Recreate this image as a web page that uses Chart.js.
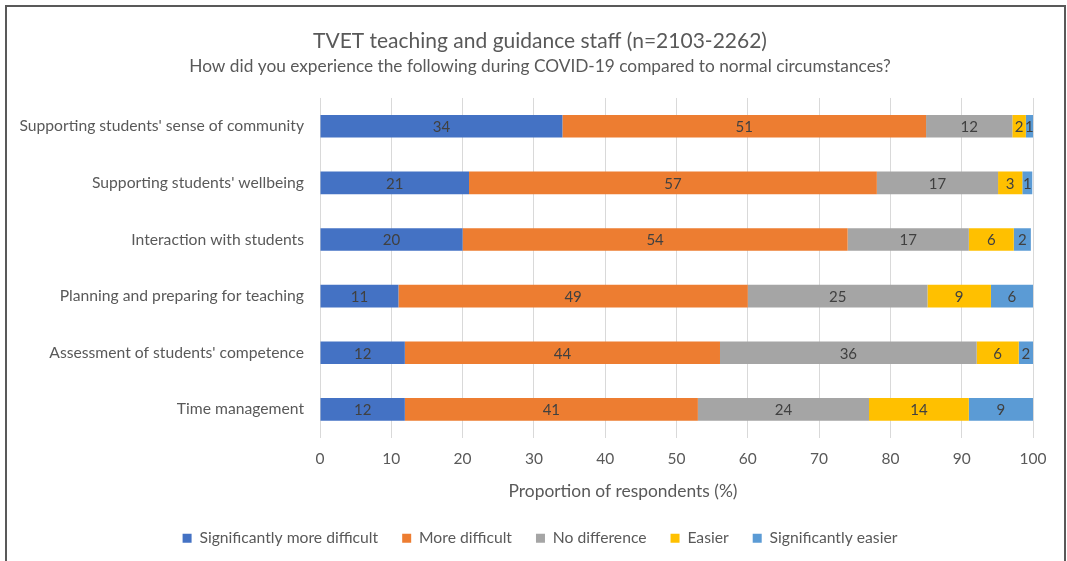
<!DOCTYPE html>
<html>
<head>
<meta charset="utf-8">
<script src="https://cdn.jsdelivr.net/npm/chart.js@4"></script>
<style>
  html, body { margin: 0; padding: 0; background: #fff; }
  #wrap { width: 1067px; height: 561px; position: relative; }
</style>
</head>
<body>
<div id="wrap"><canvas id="canvas" width="1067" height="561"></canvas></div>
<script>
var categories = [
  "Supporting students' sense of community",
  "Supporting students' wellbeing",
  "Interaction with students",
  "Planning and preparing for teaching",
  "Assessment of students' competence",
  "Time management"
];
var seriesNames = ['Significantly more difficult', 'More difficult', 'No difference', 'Easier', 'Significantly easier'];
var sigMoreDifficult = [34.0, 20.9, 20.0, 11.0, 11.9, 11.9];
var moreDifficult    = [51.0, 57.2, 54.0, 49.0, 44.2, 41.1];
var noDifference     = [12.1, 17.0, 17.0, 25.2, 36.0, 24.0];
var easier           = [1.9, 3.4, 6.3, 8.9, 5.9, 14.0];
var sigEasier        = [1.0, 1.4, 2.4, 5.9, 2.0, 9.0];
var xTicks = [0, 10, 20, 30, 40, 50, 60, 70, 80, 90, 100];
var xTitle = 'Proportion of respondents (%)';

var colors = ['#4472C4', '#ED7D31', '#A5A5A5', '#FFC000', '#5B9BD5'];
var allSeries = [sigMoreDifficult, moreDifficult, noDifference, easier, sigEasier];
var textGrey = '#595959';
var font = 'Lato, "Noto Sans", sans-serif';

// labels inside each bar segment
var barLabels = {
  id: 'barLabels',
  afterDatasetsDraw: function(chart) {
    var ctx = chart.ctx;
    ctx.save();
    ctx.fillStyle = '#404040';
    ctx.font = '15px ' + font;
    ctx.textAlign = 'center';
    ctx.textBaseline = 'middle';
    chart.data.datasets.forEach(function(ds, i) {
      var meta = chart.getDatasetMeta(i);
      meta.data.forEach(function(el, j) {
        var cx = (el.x + el.base) / 2;
        ctx.fillText(Math.round(ds.data[j]).toString(), cx, el.y + 1);
      });
    });
    ctx.restore();
  }
};

// frame round the figure, and the x axis title (it sits left of the plot centre)
var frame = {
  id: 'frame',
  beforeDraw: function(chart) {
    var ctx = chart.ctx;
    ctx.save();
    ctx.fillStyle = '#fff';
    ctx.fillRect(0, 0, chart.width, chart.height);
    ctx.strokeStyle = '#595959';
    ctx.lineWidth = 2;
    ctx.beginPath();
    ctx.moveTo(6, 570);
    ctx.lineTo(6, 6);
    ctx.lineTo(1065, 6);
    ctx.lineTo(1065, 570);
    ctx.stroke();
    ctx.restore();
  },
  afterDraw: function(chart) {
    var ctx = chart.ctx;
    var xs = chart.scales.x;
    ctx.save();
    ctx.fillStyle = textGrey;
    ctx.font = '17.4px ' + font;
    ctx.textAlign = 'center';
    ctx.textBaseline = 'middle';
    ctx.fillText(xTitle, 623, xs.bottom - 6 - 9);
    ctx.restore();
  }
};

var datasets = seriesNames.map(function(name, i) {
  return {
    label: name,
    data: allSeries[i],
    backgroundColor: colors[i],
    borderWidth: 0,
    barPercentage: 0.4,
    categoryPercentage: 1.0
  };
});

var ctx = document.getElementById('canvas').getContext('2d');
window.myBar = new Chart(ctx, {
  type: 'bar',
  data: { labels: categories, datasets: datasets },
  plugins: [frame, barLabels],
  options: {
    indexAxis: 'y',
    responsive: false,
    animation: false,
    layout: { padding: { left: 47, right: 34, top: 19, bottom: 5 } },
    scales: {
      x: {
        stacked: true,
        min: 0,
        max: 100,
        afterBuildTicks: function(scale) {
          scale.ticks = xTicks.map(function(v) { return { value: v }; });
        },
        grid: { color: '#d9d9d9', lineWidth: 1, drawTicks: false },
        border: { display: false },
        ticks: { color: textGrey, font: { family: font, size: 15.5 }, padding: 12 },
        title: {
          display: true,
          text: xTitle,
          color: 'rgba(0,0,0,0)',
          font: { family: font, size: 15 },
          padding: { top: 2, bottom: 6 }
        }
      },
      y: {
        stacked: true,
        afterFit: function(scale) {
          scale.width = 273;
          // long labels reach left of the scale box, so do not clip them
          scale._computeLabelArea = function() {};
        },
        grid: { display: false },
        border: { display: false },
        ticks: { color: textGrey, font: { family: font, size: 15.7 }, padding: 8 }
      }
    },
    plugins: {
      title: {
        display: true,
        text: 'TVET teaching and guidance staff (n=2103-2262)',
        color: textGrey,
        font: { family: font, size: 21, weight: 'normal' },
        padding: { top: 10, bottom: 2 }
      },
      subtitle: {
        display: true,
        text: 'How did you experience the following during COVID-19 compared to normal circumstances?',
        color: textGrey,
        font: { family: font, size: 17.3 },
        padding: { top: 0, bottom: 21 }
      },
      legend: {
        position: 'bottom',
        labels: {
          color: textGrey,
          font: { family: font, size: 15.7 },
          boxWidth: 9,
          boxHeight: 9,
          padding: 24
        }
      },
      tooltip: { enabled: false }
    }
  }
});
</script>
</body>
</html>
